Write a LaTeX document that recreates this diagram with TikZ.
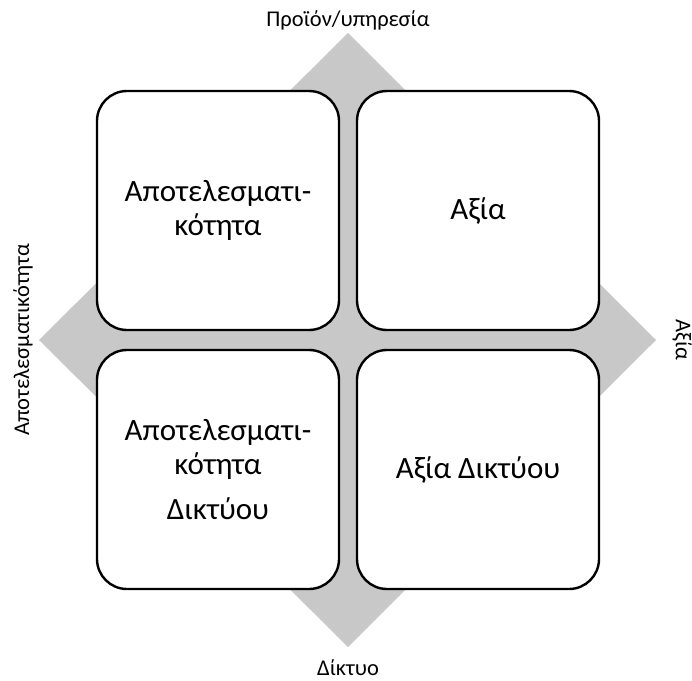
\documentclass[tikz,border=0pt]{standalone}
\usepackage{fontspec}
\setmainfont{Carlito}
\definecolor{diamondgray}{RGB}{200,200,200}
\begin{document}
\begin{tikzpicture}[x=1pt,y=-1pt,
  quad/.style={draw=black, line width=2.4pt, fill=white, rounded corners=30pt,
    minimum width=242pt, minimum height=239pt, inner sep=0pt, align=center,
    font=\fontsize{31}{34}\selectfont},
  axislabel/.style={font=\fontsize{22.5}{26}\selectfont, inner sep=0pt}]
  \useasboundingbox (0,0) rectangle (692,680);
  % grey diamond behind the four quadrants
  \fill[diamondgray] (348,33) -- (656,340) -- (348,647) -- (39,340) -- cycle;
  % quadrants
  \node[quad] (tl) at (218,210.5) {Αποτελεσματι-\\κότητα};
  \node[quad] (tr) at (478,210.5) {Αξία};
  \node[quad] (bl) at (218,469.5) {Αποτελεσματι-\\κότητα\\[11pt]Δικτύου};
  \node[quad] (br) at (478,469.5) {Αξία Δικτύου};
  % axis labels
  \node[axislabel] (top) at (348,20) {Προϊόν/υπηρεσία};
  \node[axislabel] (bottom) at (348,668) {Δίκτυο};
  \node[axislabel, rotate=90] (left) at (23,340) {Αποτελεσματικότητα};
  \node[axislabel, rotate=-90] (right) at (682,340) {Αξία};
\end{tikzpicture}
\end{document}
